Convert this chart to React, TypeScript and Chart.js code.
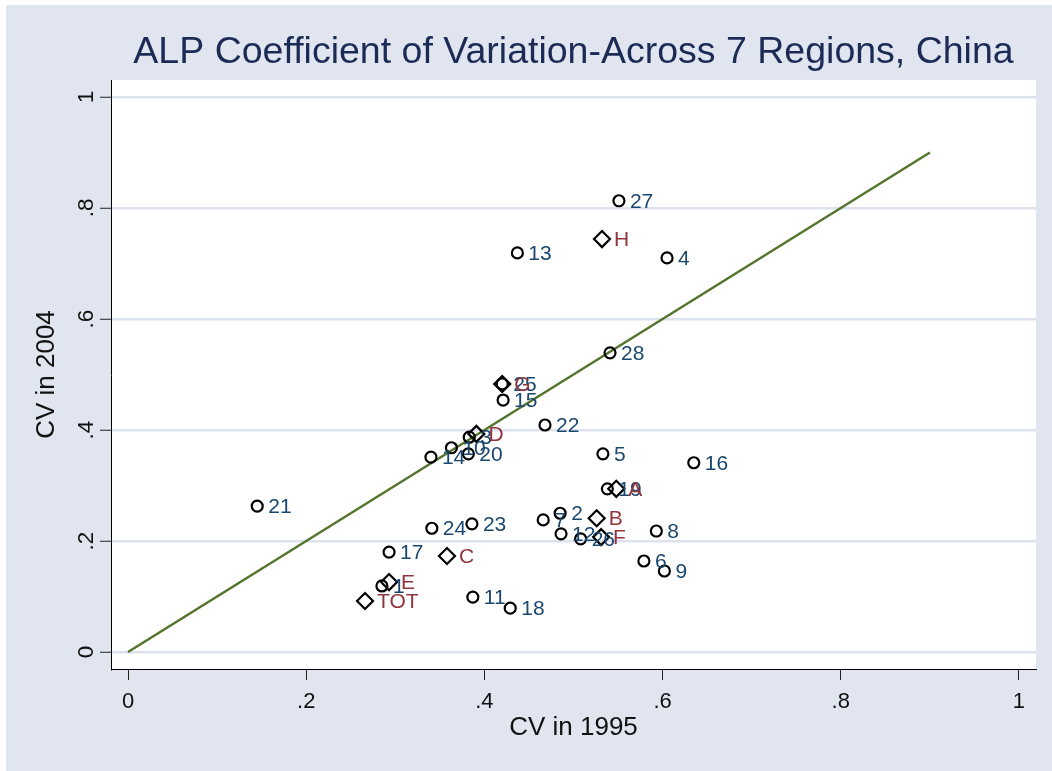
import React, { useEffect, useRef } from 'react';
import { Chart, registerables } from 'chart.js';

Chart.register(...registerables);

// Region (province) points: CV in 1995 vs CV in 2004
const regionIds = ['1', '2', '3', '4', '5', '6', '7', '8', '9', '10', '11', '12', '13', '14', '15', '16', '17', '18', '19', '20', '21', '22', '23', '24', '25', '26', '27', '28'];
const cv1995 = [0.285, 0.485, 0.383, 0.605, 0.533, 0.579, 0.466, 0.593, 0.602, 0.363, 0.387, 0.486, 0.437, 0.340, 0.421, 0.635, 0.293, 0.429, 0.538, 0.382, 0.145, 0.468, 0.386, 0.341, 0.420, 0.508, 0.551, 0.541];
const cv2004 = [0.119, 0.250, 0.387, 0.710, 0.357, 0.164, 0.238, 0.218, 0.146, 0.368, 0.099, 0.213, 0.719, 0.351, 0.454, 0.341, 0.180, 0.079, 0.294, 0.357, 0.263, 0.409, 0.231, 0.223, 0.483, 0.204, 0.813, 0.539];

// Aggregate regions
const groupLabels = ['A', 'B', 'C', 'D', 'E', 'F', 'G', 'H', 'TOT'];
const group1995 = [0.548, 0.526, 0.358, 0.391, 0.293, 0.531, 0.420, 0.532, 0.266];
const group2004 = [0.294, 0.241, 0.173, 0.393, 0.126, 0.207, 0.483, 0.744, 0.092];

// 45-degree reference line
const lineX = [0, 0.9];
const lineY = [0, 0.9];

const tickValues = [0, 0.2, 0.4, 0.6, 0.8, 1];
const tickLabels = ['0', '.2', '.4', '.6', '.8', '1'];

const TITLE = 'ALP Coefficient of Variation-Across 7 Regions, China';
const FONT = '"Liberation Sans", Arial, sans-serif';
const BG = '#e0e5f0';
const NAVY = '#1a476f';
const MAROON = '#90353b';

const bgPlugin = {
  id: 'bgPlugin',
  beforeDraw(chart: any) {
    const { ctx, chartArea } = chart;
    ctx.save();
    ctx.fillStyle = BG;
    ctx.fillRect(0, 0, chart.width, chart.height);
    ctx.fillStyle = '#ffffff';
    ctx.fillRect(chartArea.left, chartArea.top, chartArea.right - chartArea.left, chartArea.bottom - chartArea.top);
    ctx.restore();
  },
};

const labelPlugin = {
  id: 'labelPlugin',
  afterDatasetsDraw(chart: any) {
    const { ctx } = chart;
    ctx.save();
    ctx.font = `21px ${FONT}`;
    ctx.textBaseline = 'middle';
    ctx.textAlign = 'left';
    const sets: [number, string[], string, number][] = [
      [0, regionIds, NAVY, 11],
      [1, groupLabels, MAROON, 12],
    ];
    sets.forEach(([di, labels, color, off]) => {
      const meta = chart.getDatasetMeta(di);
      ctx.fillStyle = color;
      meta.data.forEach((el: any, i: number) => {
        ctx.fillText(labels[i], el.x + off, el.y + 1);
      });
    });
    ctx.restore();
  },
};

const titlePlugin = {
  id: 'titlePlugin',
  afterDraw(chart: any) {
    const { ctx, chartArea } = chart;
    ctx.save();
    ctx.font = `37.5px ${FONT}`;
    ctx.fillStyle = '#1c2b56';
    ctx.textAlign = 'center';
    ctx.textBaseline = 'middle';
    ctx.fillText(TITLE, (chartArea.left + chartArea.right) / 2, 48);
    ctx.restore();
  },
};

const setTicks = (scale: any) => {
  scale.ticks = tickValues.map((v) => ({ value: v }));
};
const tickCb = (value: any) => {
  const i = tickValues.findIndex((t) => Math.abs(t - Number(value)) < 1e-9);
  return i >= 0 ? tickLabels[i] : '';
};

export default function App() {
  const ref = useRef<HTMLCanvasElement | null>(null);

  useEffect(() => {
    if (!ref.current) return;
    const chart = new Chart(ref.current, {
      type: 'scatter',
      data: {
        datasets: [
          {
            label: 'regions',
            data: cv1995.map((x, i) => ({ x, y: cv2004[i] })),
            pointStyle: 'circle',
            pointRadius: 5.5,
            pointBorderWidth: 2.2,
            pointBorderColor: '#000000',
            pointBackgroundColor: 'rgba(0,0,0,0)',
            showLine: false,
          },
          {
            label: 'groups',
            data: group1995.map((x, i) => ({ x, y: group2004[i] })),
            pointStyle: 'rectRot',
            pointRadius: 8,
            pointBorderWidth: 2.2,
            pointBorderColor: '#000000',
            pointBackgroundColor: 'rgba(0,0,0,0)',
            showLine: false,
          },
          {
            label: 'line',
            data: lineX.map((x, i) => ({ x, y: lineY[i] })),
            showLine: true,
            pointRadius: 0,
            borderColor: '#55752f',
            borderWidth: 2.5,
            fill: false,
          },
        ],
      } as any,
      options: {
        animation: false,
        responsive: false,
        devicePixelRatio: 1,
        layout: { padding: { top: 75, right: 16, bottom: 0, left: 0 } },
        plugins: {
          legend: { display: false },
          tooltip: { enabled: false },
          title: { display: false },
        },
        scales: {
          x: {
            type: 'linear',
            min: -0.0191,
            max: 1.0191,
            afterBuildTicks: setTicks,
            afterFit: (s: any) => { s.height = 102; },
            grid: { drawOnChartArea: false, drawTicks: true, tickLength: 11, tickColor: '#222222', tickWidth: 1 },
            border: { display: true, color: '#000000', width: 1 },
            ticks: { callback: tickCb, autoSkip: false, maxRotation: 0, minRotation: 0, padding: 9, color: '#111111', font: { family: FONT, size: 22 } },
            title: { display: true, text: 'CV in 1995', color: '#111111', font: { family: FONT, size: 26 }, padding: { top: 0, bottom: 28 } },
          },
          y: {
            type: 'linear',
            min: -0.0306,
            max: 1.0306,
            afterBuildTicks: setTicks,
            afterFit: (s: any) => { s.width = 105; },
            grid: { drawOnChartArea: true, color: '#dde3ee', lineWidth: 2.5, drawTicks: true, tickLength: 11, tickColor: '#222222', tickWidth: 1 },
            border: { display: true, color: '#000000', width: 1 },
            ticks: { callback: tickCb, autoSkip: false, minRotation: 90, maxRotation: 90, crossAlign: 'center', padding: 4, color: '#111111', font: { family: FONT, size: 22.5 } },
            title: { display: true, text: 'CV in 2004', color: '#111111', font: { family: FONT, size: 26 }, padding: { top: 25, bottom: 0 } },
          },
        },
      } as any,
      plugins: [bgPlugin, labelPlugin, titlePlugin],
    });
    return () => chart.destroy();
  }, []);

  return (
    <div style={{ position: 'absolute', left: 6, top: 5, width: 1046, height: 766 }}>
      <canvas ref={ref} width={1046} height={766} style={{ display: 'block', width: 1046, height: 766 }} />
    </div>
  );
}
